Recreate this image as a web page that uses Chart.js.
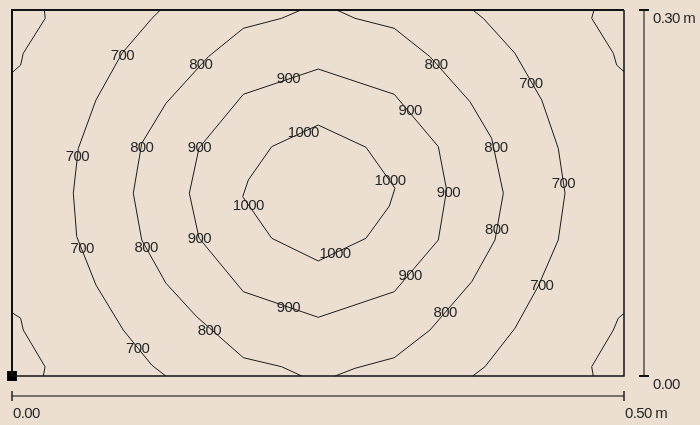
<!DOCTYPE html>
<html>
<head>
<meta charset="utf-8">
<script src="https://cdn.jsdelivr.net/npm/chart.js@4/dist/chart.umd.min.js"></script>
<style>
  html, body { margin: 0; padding: 0; background: #ecdfd1; }
  #c { display: block; }
</style>
</head>
<body>
<canvas id="c" width="700" height="425"></canvas>
<script>
// Plate extents (m)
const plateWidth = 0.5;
const plateHeight = 0.3;

// Dimension ticks
const xTickValues = [0, 0.5];
const xTickLabels = ['0.00', '0.50 m'];
const yTickValues = [0, 0.3];
const yTickLabels = ['0.00', '0.30 m'];

// Contour polylines [x (m), y (m)]
const c700TopLeft = [[0.0264,0.300],[0.0272,0.2932],[0.0092,0.2645],[0.0071,0.2549],[0.0,0.2486]];
const c700TopRight = [[0.4755,0.300],[0.4736,0.2932],[0.4913,0.2645],[0.4940,0.2549],[0.5,0.2494]];
const c700BottomLeft = [[0.0,0.0519],[0.0071,0.0473],[0.0092,0.0377],[0.0270,0.0076],[0.0256,0.0]];
const c700BottomRight = [[0.5,0.0514],[0.4953,0.0473],[0.4913,0.0377],[0.4736,0.0076],[0.4749,0.0]];
const c700Left = [[0.1212,0.300],[0.1144,0.2932],[0.0899,0.2645],[0.0686,0.2262],[0.0542,0.1866],[0.0501,0.1498],[0.0529,0.1142],[0.0686,0.0746],[0.0909,0.0377],[0.1141,0.0090],[0.1256,0.0]];
const c700Right = [[0.3764,0.300],[0.3850,0.2932],[0.4109,0.2645],[0.4328,0.2262],[0.4463,0.1866],[0.4518,0.1498],[0.4463,0.1115],[0.4300,0.0738],[0.4109,0.0391],[0.3864,0.0076],[0.3764,0.0]];
const c800Left = [[0.2361,0.300],[0.2203,0.2932],[0.1890,0.2850],[0.1604,0.2617],[0.1258,0.2235],[0.1060,0.1907],[0.0991,0.1498],[0.1060,0.1115],[0.1258,0.0760],[0.1509,0.0486],[0.1890,0.0150],[0.2203,0.0076],[0.2367,0.0]];
const c800Right = [[0.2653,0.300],[0.2802,0.2932],[0.3123,0.2850],[0.3415,0.2617],[0.3742,0.2248],[0.3919,0.1948],[0.4014,0.1498],[0.3946,0.1115],[0.3756,0.0773],[0.3415,0.0377],[0.3123,0.0150],[0.2802,0.0063],[0.2639,0.0]];
const c900 = [[0.2502,0.2516],[0.3123,0.2309],[0.3483,0.1880],[0.3551,0.1525],[0.3483,0.1115],[0.3123,0.0691],[0.2502,0.0481],[0.1890,0.0691],[0.1528,0.1131],[0.1449,0.1498],[0.1528,0.1869],[0.1890,0.2309],[0.2502,0.2516]];
const c1000 = [[0.2502,0.2057],[0.2892,0.1875],[0.3129,0.1539],[0.3083,0.1393],[0.2892,0.1129],[0.2502,0.0943],[0.2122,0.1129],[0.1885,0.1470],[0.1931,0.1607],[0.2122,0.1880],[0.2502,0.2057]];

// Contour labels
const labelX = [0.0901,0.1542,0.2257,0.3464,0.4240,0.3252,0.2380,0.0534,0.1060,0.1530,0.3954,0.3088,0.3565,0.4504,0.1931,0.1530,0.0572,0.1095,0.3960,0.2639,0.3252,0.4328,0.2257,0.3538,0.1612,0.1027];
const labelY = [0.2625,0.2555,0.2440,0.2555,0.2399,0.2175,0.1994,0.1798,0.1875,0.1875,0.1875,0.1601,0.1502,0.1580,0.1396,0.1129,0.1047,0.1055,0.1202,0.1006,0.0822,0.0746,0.0563,0.0519,0.0371,0.0227];
const labelText = ['700','800','900','800','700','900','1000','700','800','900','800','1000','900','700','1000','900','700','800','800','1000','900','700','900','800','800','700'];

const originPoint = [[0, 0]];

const BG = '#ecdfd1';
const LINE = '#1c1c1c';
const TEXT = '#262626';

function toPts(arr) { return arr.map(p => ({x: p[0], y: p[1]})); }
function contour(arr) {
  return {
    data: toPts(arr), showLine: true, pointRadius: 0, borderColor: LINE,
    borderWidth: 1, fill: false, clip: false, tension: 0, order: 2
  };
}

const contours = [c700TopLeft, c700TopRight, c700BottomLeft, c700BottomRight, c700Left, c700Right, c800Left, c800Right, c900, c1000];

const decor = {
  id: 'decor',
  beforeDraw(chart) {
    const ctx = chart.ctx;
    ctx.save();
    ctx.fillStyle = BG;
    ctx.fillRect(0, 0, chart.width, chart.height);
    ctx.restore();
  },
  afterDatasetsDraw(chart) {
    const ctx = chart.ctx;
    const xs = chart.scales.x, ys = chart.scales.y;
    const L = xs.getPixelForValue(0), R = xs.getPixelForValue(plateWidth);
    const B = ys.getPixelForValue(0), T = ys.getPixelForValue(plateHeight);
    ctx.save();
    // plate border
    ctx.strokeStyle = '#111';
    ctx.lineWidth = 1.5;
    ctx.beginPath();
    ctx.moveTo(R, T); ctx.lineTo(R, B); ctx.lineTo(L, B);
    ctx.stroke();
    ctx.lineWidth = 2;
    ctx.beginPath();
    ctx.moveTo(L, B); ctx.lineTo(L, T); ctx.lineTo(R, T);
    ctx.stroke();

    // contour labels
    ctx.font = '15px "Liberation Sans", Arial, sans-serif';
    if ('letterSpacing' in ctx) ctx.letterSpacing = '-0.6px';
    ctx.fillStyle = TEXT;
    ctx.textAlign = 'center';
    ctx.textBaseline = 'middle';
    for (let i = 0; i < labelText.length; i++) {
      ctx.fillText(labelText[i], xs.getPixelForValue(labelX[i]), ys.getPixelForValue(labelY[i]) + 0.5);
    }

    // right dimension line
    const dx = R + 20;
    ctx.strokeStyle = '#7b736b';
    ctx.lineWidth = 2;
    ctx.beginPath();
    ctx.moveTo(dx, ys.getPixelForValue(yTickValues[0]));
    ctx.lineTo(dx, ys.getPixelForValue(yTickValues[yTickValues.length - 1]));
    ctx.stroke();
    ctx.strokeStyle = '#111';
    ctx.lineWidth = 2;
    ctx.textAlign = 'left';
    yTickValues.forEach((v, i) => {
      const py = ys.getPixelForValue(v);
      ctx.beginPath(); ctx.moveTo(dx - 5, py); ctx.lineTo(dx + 5, py); ctx.stroke();
      ctx.fillText(yTickLabels[i], dx + 9, py + 9);
    });

    // bottom dimension line
    const dy = B + 20;
    ctx.strokeStyle = '#7b736b';
    ctx.lineWidth = 2;
    ctx.beginPath();
    ctx.moveTo(xs.getPixelForValue(xTickValues[0]), dy);
    ctx.lineTo(xs.getPixelForValue(xTickValues[xTickValues.length - 1]), dy);
    ctx.stroke();
    ctx.strokeStyle = '#222';
    ctx.lineWidth = 1.5;
    xTickValues.forEach((v, i) => {
      const px = xs.getPixelForValue(v);
      ctx.beginPath(); ctx.moveTo(px, dy - 5); ctx.lineTo(px, dy + 5); ctx.stroke();
      ctx.fillText(xTickLabels[i], px + 1, dy + 18);
    });
    ctx.restore();
  }
};

new Chart(document.getElementById('c'), {
  type: 'scatter',
  data: {
    datasets: contours.map(contour).concat([{
      data: toPts(originPoint), pointStyle: 'rect', pointRadius: 7, pointHoverRadius: 7,
      backgroundColor: '#000', borderColor: '#000', borderWidth: 0, clip: false, order: 0, showLine: false
    }])
  },
  options: {
    responsive: false,
    animation: false,
    devicePixelRatio: 1,
    layout: { padding: { left: 12, top: 10, right: 76, bottom: 49 } },
    plugins: { legend: { display: false }, tooltip: { enabled: false } },
    events: [],
    scales: {
      x: { type: 'linear', min: 0, max: plateWidth, display: false },
      y: { type: 'linear', min: 0, max: plateHeight, display: false }
    }
  },
  plugins: [decor]
});
</script>
</body>
</html>
